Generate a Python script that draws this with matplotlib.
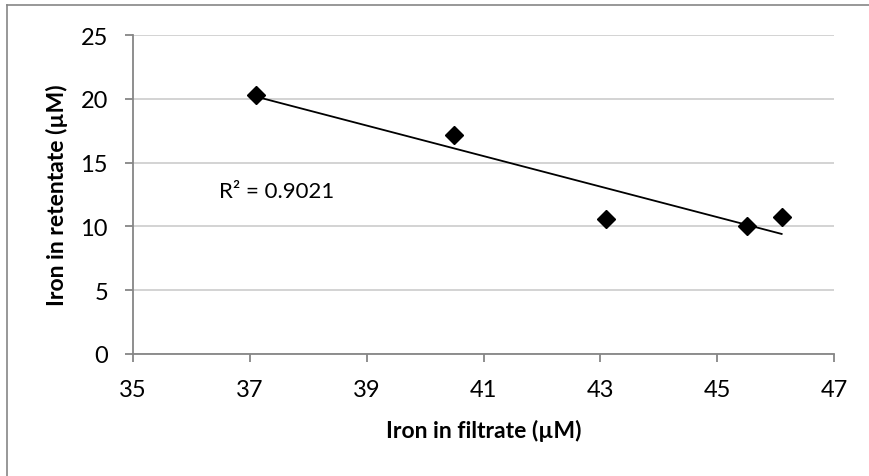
import matplotlib
matplotlib.use('Agg')
from matplotlib import pyplot as plt
from matplotlib.lines import Line2D
import numpy as np

# iron measurements (uM)
filtrate = [37.1, 40.5, 43.1, 45.5, 46.1]
retentate = [20.3, 17.2, 10.6, 10.0, 10.7]
r2_label = 'R² = 0.9021'

plt.rcParams['font.family'] = ['Lato', 'DejaVu Sans']

fig = plt.figure(figsize=(8.69, 4.77), dpi=100)
ax = fig.add_axes([0.153, 0.256, 0.807, 0.6685])

# chart frame (left and top edges)
fig.add_artist(Line2D([7 / 869, 7 / 869], [0, 1 - 6 / 477], transform=fig.transFigure,
                      color='#868686', lw=1.2))
fig.add_artist(Line2D([7 / 869, 1], [1 - 6 / 477, 1 - 6 / 477], transform=fig.transFigure,
                      color='#868686', lw=1.2))

# linear trendline over the data range
k, b = np.polyfit(filtrate, retentate, 1)
fx = np.array([min(filtrate), max(filtrate)])
ax.plot(fx, k * fx + b, color='black', lw=1.3, zorder=3)
ax.plot(filtrate, retentate, 'D', color='black', ms=9, zorder=4)

ax.text(36.48, 12.8, r2_label, fontsize=16, va='center', ha='left')

ax.set_xlim(35, 47)
ax.set_ylim(0, 25)
ax.set_xticks(np.arange(35, 48, 2))
ax.set_yticks(np.arange(0, 26, 5))
ax.yaxis.grid(True, color='#d0d0d0', lw=1.3)
ax.set_axisbelow(True)

for s in ['top', 'right']:
    ax.spines[s].set_visible(False)
for s in ['left', 'bottom']:
    ax.spines[s].set_color('#868686')
    ax.spines[s].set_linewidth(1.3)
ax.tick_params(axis='both', direction='out', length=6, width=1.3, color='#868686',
               labelsize=17, pad=12)
ax.tick_params(axis='y', pad=12)

ax.set_xlabel('Iron in filtrate (µM)', fontsize=16.5, fontweight='bold', labelpad=14)
ax.set_ylabel('Iron in retentate (µM)', fontsize=16.5, fontweight='bold')
ax.yaxis.set_label_coords(-0.093, 0.5)

fig.savefig('out.png', dpi=100)
plt.close()
